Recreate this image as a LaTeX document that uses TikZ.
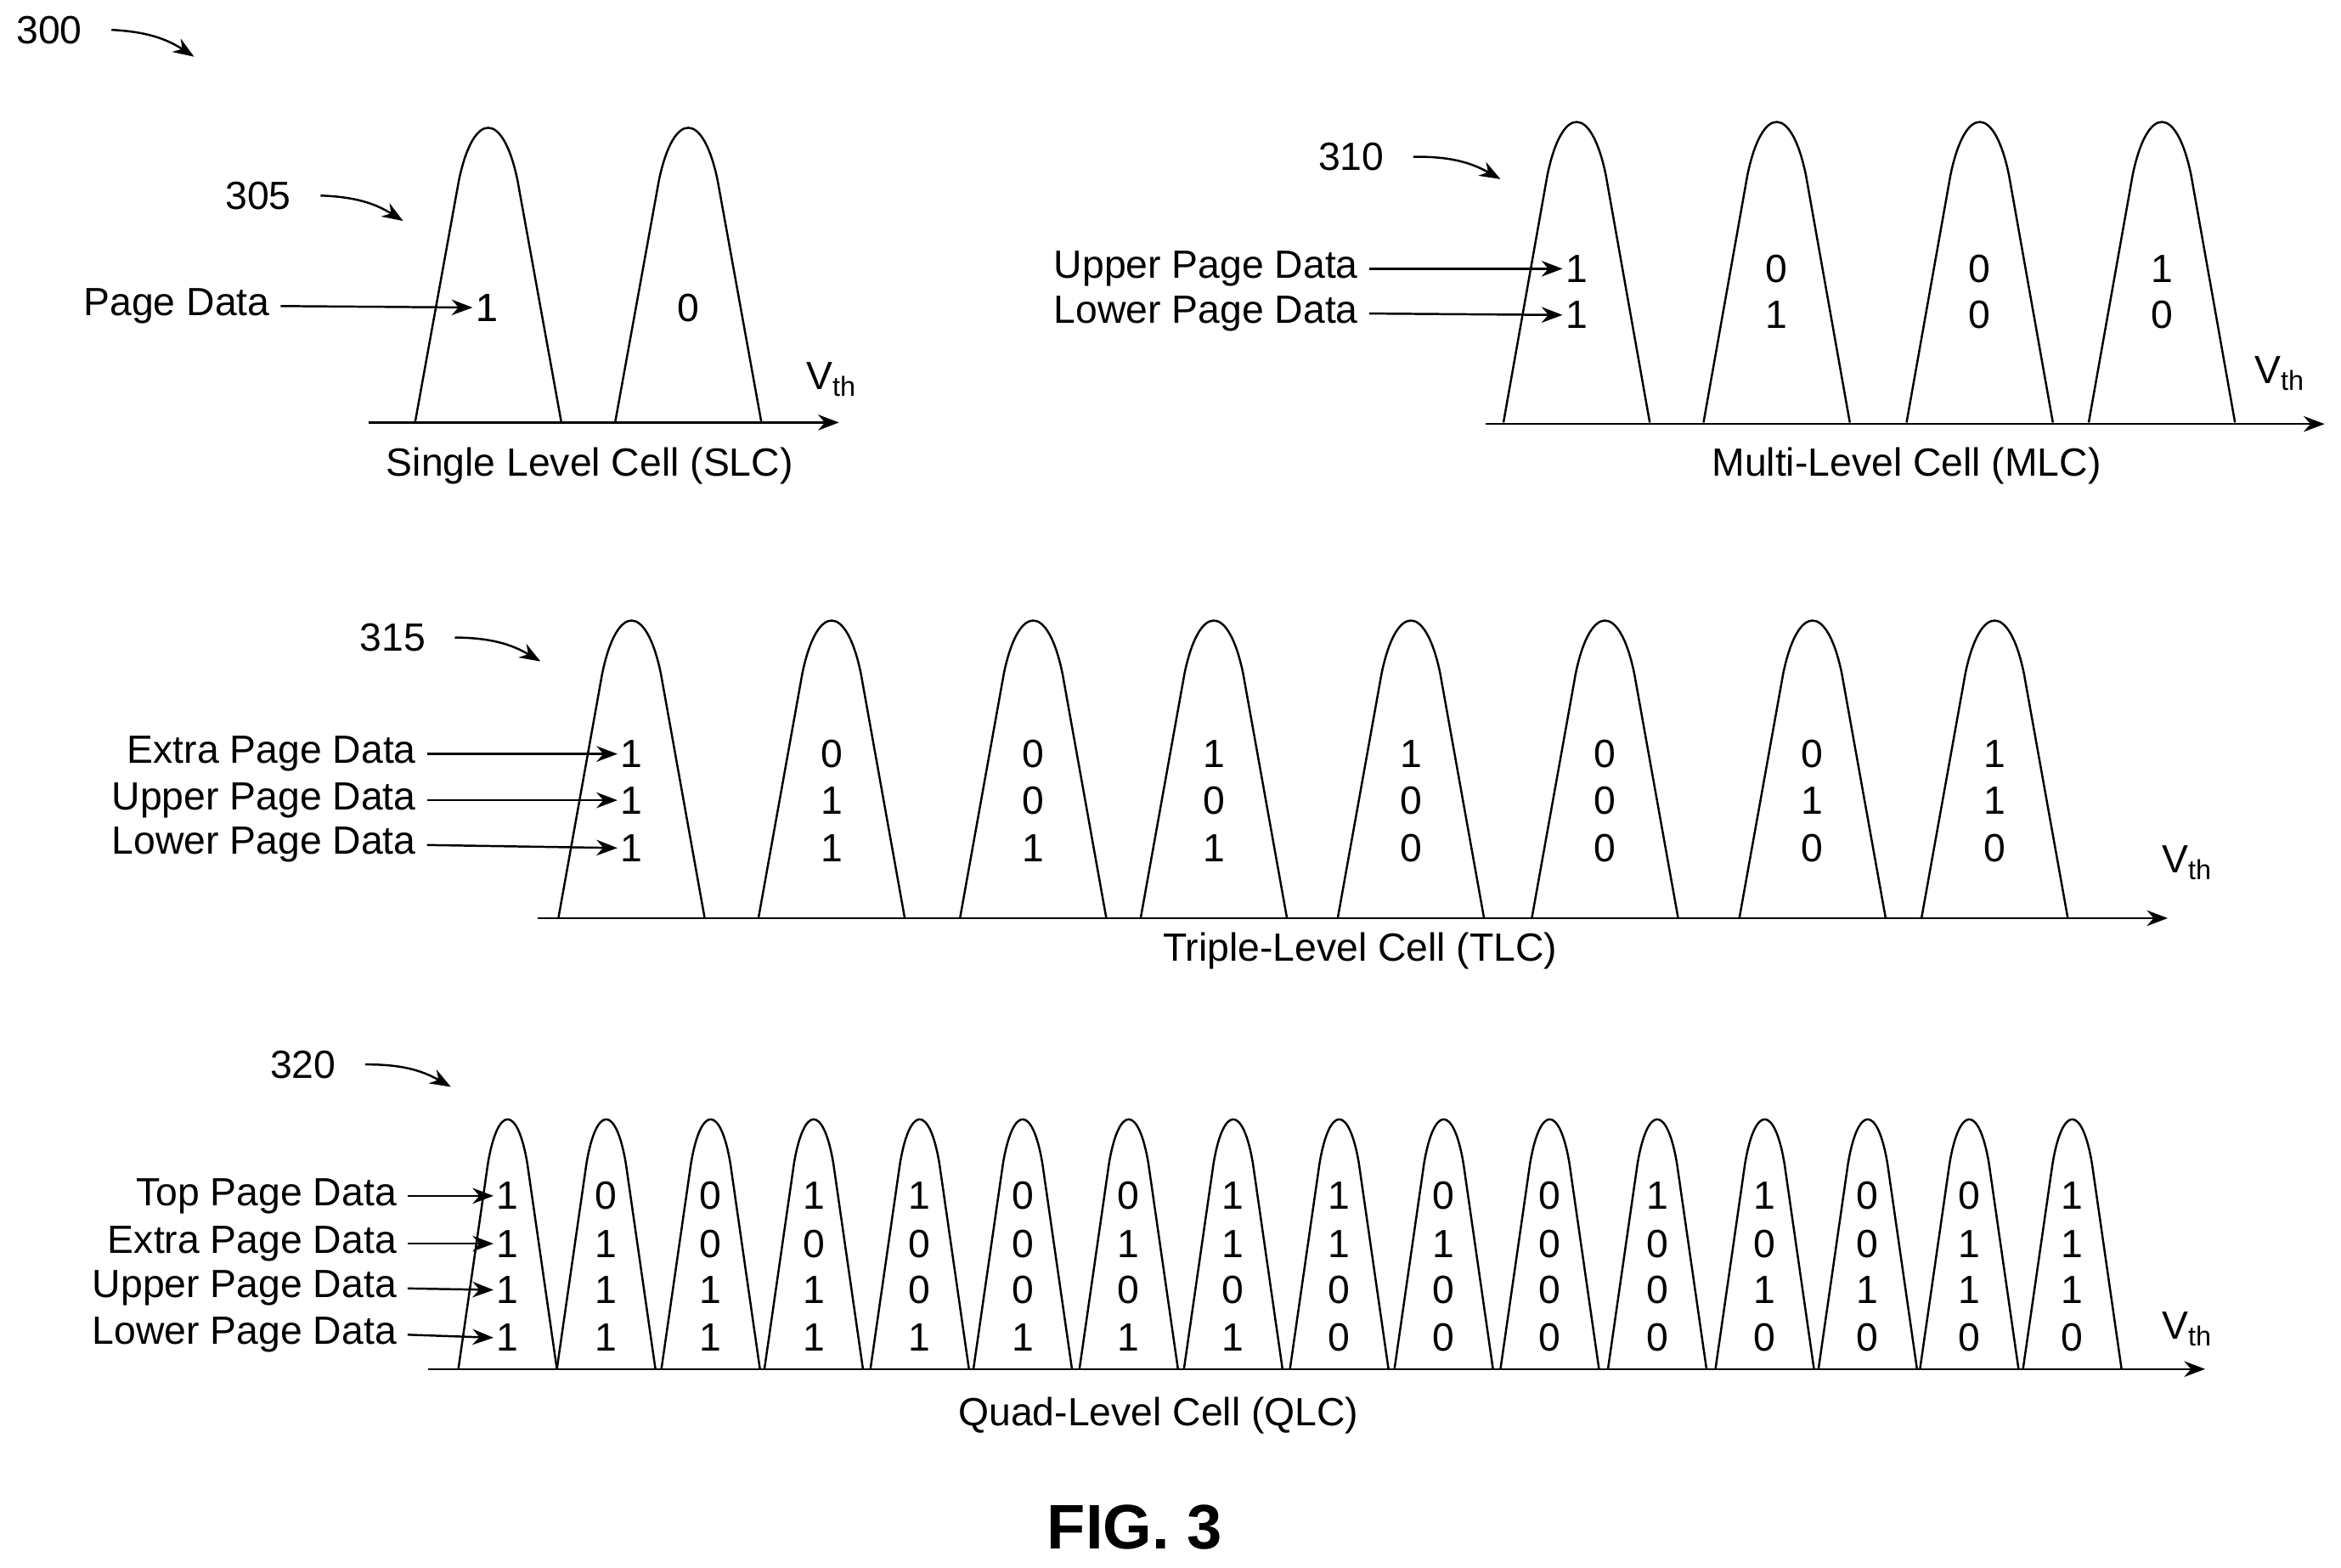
\documentclass[tikz,border=0pt]{standalone}
\usepackage{fontspec}
\setmainfont{Liberation Sans}
\usetikzlibrary{arrows.meta,positioning}

\newcommand{\bellcurve}[4]{% center, top, base, half width
  \draw[thick] ({#1-#4},#3) -- ({#1-0.4*#4},{#2+0.2*(#3-#2)})
    .. controls ({#1-0.2*#4},{#2-0.03*(#3-#2)}) and ({#1+0.2*#4},{#2-0.03*(#3-#2)}) ..
    ({#1+0.4*#4},{#2+0.2*(#3-#2)}) -- ({#1+#4},#3);}

\begin{document}
\begin{tikzpicture}[x=0.02cm,y=-0.02cm,>={Stealth[length=8pt,width=6pt]}]
  \tikzstyle{txt}=[font=\fontsize{15}{17}\selectfont,inner sep=1pt]
  \tikzstyle{lbl}=[txt,anchor=east,inner sep=4pt]
  \tikzstyle{bit}=[txt]
  \tikzstyle{refarrow}=[->,thick]
  \useasboundingbox (0,0) rectangle (1568,1050);

  % reference numerals
  \node[txt] (r300) at (33,20) {300};
  \node[txt] (r305) at (173,131) {305};
  \node[txt] (r310) at (905,105) {310};
  \node[txt] (r315) at (263,427) {315};
  \node[txt] (r320) at (203,713) {320};
  \coordinate (t300) at (130,38);
  \coordinate (t305) at (270,148);
  \coordinate (t310) at (1005,120);
  \coordinate (t315) at (362,443);
  \coordinate (t320) at (302,728);
  \foreach \r in {300,305,310,315,320}
    \draw[refarrow] ([xshift=10pt]r\r.east) to[bend left=15] (t\r);

  % SLC
  \coordinate (slcs) at (247,283);
  \coordinate (slce) at (562,283);
  \draw[->,thick] (slcs) -- (slce);
  \node[txt] (slcv) at (557,254) {V\textsubscript{th}};
  \foreach \c in {327,461} \bellcurve{\c}{80}{283}{49}
  \node[bit] (slc1) at (326,206) {1};
  \node[bit] (slc2) at (461,206) {0};
  \node[lbl] (slcpage) at (188,205) {Page Data};
  \draw[->,thick] (slcpage.east) -- (slc1.west);
  \node[txt] (slcname) at (395,312) {Single Level Cell (SLC)};

  % MLC
  \coordinate (mlcs) at (995,284);
  \coordinate (mlce) at (1557,284);
  \draw[->,thick] (mlcs) -- (mlce);
  \node[txt] (mlcv) at (1527,250) {V\textsubscript{th}};
  \foreach \c/\u/\l [count=\i] in {1056/1/1,1190/0/1,1326/0/0,1448/1/0}{
    \bellcurve{\c}{76}{283}{49}
    \node[bit] (mlcu\i) at (\c,180) {\u};
    \node[bit] (mlcl\i) at (\c,211) {\l};
  }
  \node[lbl] (mlcup) at (917,180) {Upper Page Data};
  \node[lbl] (mlclo) at (917,210) {Lower Page Data};
  \draw[->,thick] (mlcup.east) -- (mlcu1.west);
  \draw[->,thick] (mlclo.east) -- (mlcl1.west);
  \node[txt] (mlcname) at (1277,312) {Multi-Level Cell (MLC)};

  % TLC
  \coordinate (tlcs) at (360,615);
  \coordinate (tlce) at (1452,615);
  \draw[->,thick] (tlcs) -- (tlce);
  \node[txt] (tlcv) at (1465,578) {V\textsubscript{th}};
  \foreach \c/\e/\u/\l [count=\i] in {423/1/1/1,557/0/1/1,692/0/0/1,813/1/0/1,
      945/1/0/0,1075/0/0/0,1214/0/1/0,1336/1/1/0}{
    \bellcurve{\c}{410}{615}{49}
    \node[bit] (tlce\i) at (\c,505) {\e};
    \node[bit] (tlcu\i) at (\c,536) {\u};
    \node[bit] (tlcl\i) at (\c,568) {\l};
  }
  \node[lbl] (tlcex) at (286,505) {Extra Page Data};
  \node[lbl] (tlcup) at (286,536) {Upper Page Data};
  \node[lbl] (tlclo) at (286,566) {Lower Page Data};
  \draw[->,thick] (tlcex.east) -- (tlce1.west);
  \draw[->,thick] (tlcup.east) -- (tlcu1.west);
  \draw[->,thick] (tlclo.east) -- (tlcl1.west);
  \node[txt] (tlcname) at (911,637) {Triple-Level Cell (TLC)};

  % QLC
  \coordinate (qlcs) at (287,917);
  \coordinate (qlce) at (1477,917);
  \draw[->,thick] (qlcs) -- (qlce);
  \node[txt] (qlcv) at (1465,890) {V\textsubscript{th}};
  \foreach \c/\t/\e/\u/\l [count=\i] in {340/1/1/1/1,406/0/1/1/1,476/0/0/1/1,
      545/1/0/1/1,616/1/0/0/1,685/0/0/0/1,756/0/1/0/1,826/1/1/0/1,
      897/1/1/0/0,967/0/1/0/0,1038/0/0/0/0,1110/1/0/0/0,1182/1/0/1/0,
      1251/0/0/1/0,1319/0/1/1/0,1388/1/1/1/0}{
    \bellcurve{\c}{745}{917}{33}
    \node[bit] (qlct\i) at (\c,801) {\t};
    \node[bit] (qlce\i) at (\c,833) {\e};
    \node[bit] (qlcu\i) at (\c,864) {\u};
    \node[bit] (qlcl\i) at (\c,896) {\l};
  }
  \node[lbl] (qlctop) at (273,801) {Top Page Data};
  \node[lbl] (qlcex) at (273,833) {Extra Page Data};
  \node[lbl] (qlcup) at (273,863) {Upper Page Data};
  \node[lbl] (qlclo) at (273,894) {Lower Page Data};
  \draw[->,thick] (qlctop.east) -- (qlct1.west);
  \draw[->,thick] (qlcex.east) -- (qlce1.west);
  \draw[->,thick] (qlcup.east) -- (qlcu1.west);
  \draw[->,thick] (qlclo.east) -- (qlcl1.west);
  \node[txt] (qlcname) at (776,948) {Quad-Level Cell (QLC)};

  \node[font=\fontsize{24}{28}\selectfont\bfseries] (fig) at (760,1023) {FIG. 3};
\end{tikzpicture}
\end{document}
